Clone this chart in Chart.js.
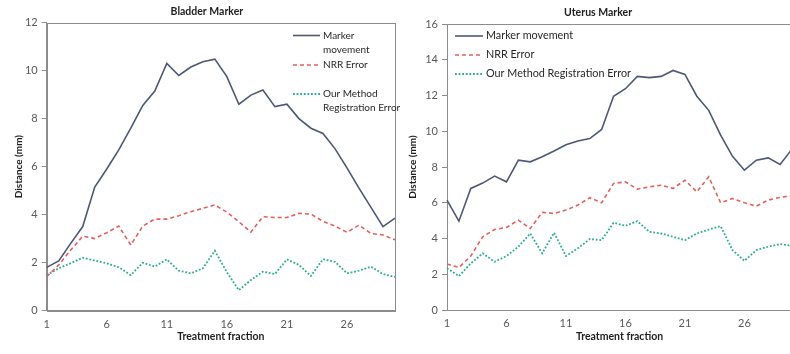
<!DOCTYPE html>
<html>
<head>
<meta charset="utf-8">
<script src="https://cdn.jsdelivr.net/npm/chart.js@4/dist/chart.umd.min.js"></script>
<style>
  html, body { margin: 0; padding: 0; background: #fff; width: 790px; height: 354px; overflow: hidden; }
  #wrap { position: relative; width: 790px; height: 354px; overflow: hidden; }
  #bladder { position: absolute; left: 0; top: 0; }
  #uterus { position: absolute; left: 392px; top: 0; }
</style>
</head>
<body>
<div id="wrap">
  <canvas id="bladder" width="402" height="354"></canvas>
  <canvas id="uterus" width="407" height="354"></canvas>
</div>
<script>
// Treatment fractions 1..30
const fractions = ['1','2','3','4','5','6','7','8','9','10','11','12','13','14','15',
                   '16','17','18','19','20','21','22','23','24','25','26','27','28','29','30'];

// Bladder marker (mm)
const bladderMovement = [1.8, 2.07, 2.8, 3.5, 5.15, 5.9, 6.7, 7.6, 8.55, 9.15, 10.3, 9.8, 10.15, 10.37, 10.48,
                         9.75, 8.6, 8.98, 9.19, 8.5, 8.6, 8.0, 7.6, 7.38, 6.75, 5.95, 5.1, 4.3, 3.5, 3.85];
const bladderNRR = [1.41, 1.9, 2.52, 3.1, 3.0, 3.24, 3.52, 2.73, 3.52, 3.81, 3.81, 3.95, 4.12, 4.26, 4.4,
                    4.1, 3.7, 3.27, 3.91, 3.88, 3.88, 4.05, 4.02, 3.72, 3.52, 3.26, 3.56, 3.21, 3.15, 2.95];
const bladderOurs = [1.48, 1.76, 1.97, 2.2, 2.08, 1.97, 1.8, 1.48, 1.99, 1.83, 2.13, 1.66, 1.55, 1.76, 2.49,
                     1.6, 0.85, 1.27, 1.62, 1.52, 2.13, 1.9, 1.44, 2.14, 2.03, 1.55, 1.66, 1.83, 1.52, 1.4];

// Uterus marker (mm)
const uterusMovement = [6.15, 4.97, 6.8, 7.1, 7.49, 7.17, 8.38, 8.29, 8.57, 8.9, 9.24, 9.46, 9.59, 10.1, 11.96,
                        12.38, 13.07, 13.0, 13.07, 13.4, 13.18, 11.96, 11.17, 9.78, 8.6, 7.82, 8.38, 8.51, 8.14, 9.0];
const uterusNRR = [2.57, 2.38, 3.02, 4.1, 4.5, 4.62, 5.03, 4.56, 5.46, 5.4, 5.59, 5.87, 6.28, 6.0, 7.08,
                   7.17, 6.76, 6.89, 6.98, 6.8, 7.26, 6.61, 7.45, 6.0, 6.24, 6.0, 5.81, 6.15, 6.3, 6.4];
const uterusOurs = [2.33, 1.9, 2.6, 3.17, 2.7, 3.02, 3.54, 4.28, 3.17, 4.32, 3.02, 3.45, 3.97, 3.91, 4.88,
                    4.71, 4.97, 4.38, 4.28, 4.1, 3.91, 4.28, 4.5, 4.69, 3.35, 2.75, 3.35, 3.54, 3.69, 3.6];

const seriesNames = ['Marker movement', 'NRR Error', 'Our Method Registration Error'];
const yTicksBladder = { max: 12, step: 2 };
const yTicksUterus = { max: 16, step: 2 };

const FONT = 'Lato, "Liberation Sans", sans-serif';
const AXIS = '#8c8c8c';
const TICK = '#595959';
const INK = '#1e1e1e';
const COLORS = ['#4d5877', '#e4605f', '#2bae93'];

function datasets(values) {
  return [
    { label: seriesNames[0], data: values[0], borderColor: COLORS[0], borderWidth: 1.6, borderDash: [] },
    { label: seriesNames[1], data: values[1], borderColor: COLORS[1], borderWidth: 1.6, borderDash: [4, 3] },
    { label: seriesNames[2], data: values[2], borderColor: COLORS[2], borderWidth: 1.8, borderDash: [1.8, 1.8] }
  ].map(d => Object.assign(d, { pointRadius: 0, tension: 0, fill: false }));
}

// Grey frame round the plot area
const framePlugin = {
  id: 'frame',
  beforeDatasetsDraw(chart) {
    const a = chart.chartArea, ctx = chart.ctx;
    ctx.save();
    ctx.strokeStyle = AXIS;
    ctx.lineWidth = 1;
    ctx.strokeRect(Math.round(a.left) + 0.5, Math.round(a.top) + 0.5,
                   Math.round(a.right - a.left), Math.round(a.bottom - a.top));
    ctx.restore();
  }
};

// Legend drawn inside the plot, with wrapped labels
const insideLegend = {
  id: 'insideLegend',
  afterDatasetsDraw(chart, args, opts) {
    const ctx = chart.ctx;
    ctx.save();
    opts.items.forEach((item, k) => {
      const ds = chart.data.datasets[k];
      ctx.strokeStyle = ds.borderColor;
      ctx.lineWidth = ds.borderWidth;
      ctx.setLineDash(ds.borderDash || []);
      ctx.beginPath();
      ctx.moveTo(opts.x, item.y);
      ctx.lineTo(opts.x + opts.lineLen, item.y);
      ctx.stroke();
      ctx.setLineDash([]);
      ctx.fillStyle = '#262626';
      ctx.font = opts.fontSize + 'px ' + FONT;
      ctx.textBaseline = 'middle';
      ctx.textAlign = 'left';
      item.lines.forEach((t, j) => ctx.fillText(t, opts.x + opts.lineLen + 3, item.y + j * opts.lineGap));
    });
    ctx.restore();
  }
};

function makeChart(id, cfg) {
  return new Chart(document.getElementById(id), {
    type: 'line',
    data: { labels: fractions, datasets: datasets(cfg.values) },
    plugins: [framePlugin, insideLegend],
    options: {
      responsive: false,
      animation: false,
      events: [],
      layout: { padding: { left: cfg.padL, right: cfg.padR, top: 0, bottom: 0 } },
      plugins: {
        legend: { display: false },
        tooltip: { enabled: false },
        title: {
          display: true, text: cfg.title, color: INK,
          font: { family: FONT, size: 10.5, weight: 'bold' },
          padding: cfg.titlePad
        },
        insideLegend: cfg.legend
      },
      scales: {
        x: {
          type: 'category', offset: false,
          grid: { display: false, drawTicks: false, tickLength: 0 },
          border: { display: true, color: AXIS, width: 1 },
          ticks: {
            autoSkip: false, maxRotation: 0, minRotation: 0, padding: 7,
            color: TICK, font: { family: FONT, size: 11 },
            callback(v, i) { return i % 5 === 0 ? this.getLabelForValue(v) : ''; }
          },
          title: {
            display: true, text: 'Treatment fraction', color: INK,
            font: { family: FONT, size: 10.5, weight: 'bold' },
            padding: { top: 0, bottom: 11 }
          },
          afterFit(s) { s.height = 354 - cfg.axisY; }
        },
        y: {
          min: 0, max: cfg.yTicks.max,
          ticks: { stepSize: cfg.yTicks.step, padding: 4, color: TICK, font: { family: FONT, size: 11 } },
          grid: { display: true, drawOnChartArea: false, drawTicks: true, tickLength: 5, color: AXIS },
          border: { display: true, color: AXIS, width: 1 },
          title: {
            display: true, text: 'Distance (mm)', color: INK,
            font: { family: FONT, size: 10, weight: 'bold' },
            padding: { top: cfg.yTitlePad, bottom: 0 }
          },
          afterFit(s) { s.width = cfg.yW; }
        }
      }
    }
  });
}

makeChart('bladder', {
  title: 'Bladder Marker',
  values: [bladderMovement, bladderNRR, bladderOurs],
  yTicks: yTicksBladder,
  padL: 13, padR: 1.2, yW: 33.7, axisY: 310.5, yTitlePad: 0,
  titlePad: { top: 5, bottom: 5.1 },
  legend: {
    x: 293, lineLen: 27, lineGap: 14, fontSize: 10,
    items: [
      { y: 35.5, lines: ['Marker', 'movement'] },
      { y: 65, lines: ['NRR Error'] },
      { y: 94, lines: ['Our Method', 'Registration Error'] }
    ]
  }
});

makeChart('uterus', {
  title: 'Uterus Marker',
  values: [uterusMovement, uterusNRR, uterusOurs],
  yTicks: yTicksUterus,
  padL: 8, padR: 2.8, yW: 47, axisY: 310, yTitlePad: 7,
  titlePad: { top: 6.5, bottom: 4.9 },
  legend: {
    x: 63, lineLen: 28, lineGap: 14, fontSize: 10.8,
    items: [
      { y: 36, lines: ['Marker movement'] },
      { y: 55, lines: ['NRR Error'] },
      { y: 74, lines: ['Our Method Registration Error'] }
    ]
  }
});
</script>
</body>
</html>
